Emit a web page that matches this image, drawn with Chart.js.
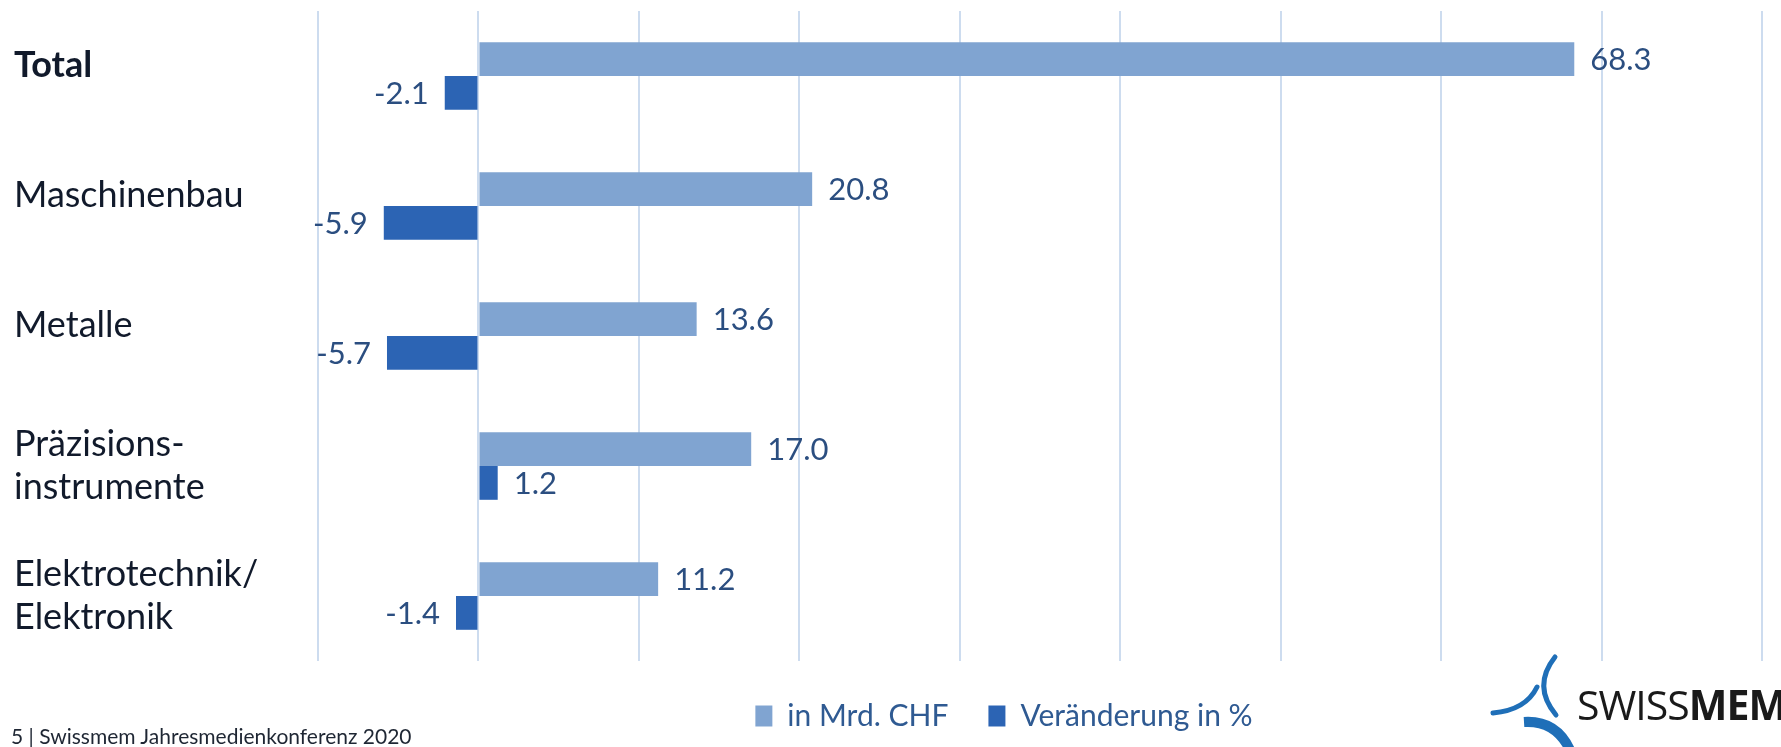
<!doctype html>
<html>
<head>
<meta charset="utf-8">
<script src="https://cdn.jsdelivr.net/npm/chart.js@4/dist/chart.umd.min.js"></script>
<style>
  body { margin: 0; background: #fff; }
  #wrap { position: relative; width: 1781px; height: 747px; overflow: hidden; }
  #footer { position: absolute; left: 11px; top: 723px; font-family: Lato, sans-serif; font-size: 21px; color: #1e2633; }
  #logo { position: absolute; left: 1480px; top: 650px; width: 301px; height: 97px; }
  #logoText { position: absolute; left: 97px; top: 26px; font-family: "Open Sans", sans-serif; font-size: 41px; color: #1a1a1a; letter-spacing: -1px; }
</style>
<script>
// categories and values
var categories = ['Total', 'Maschinenbau', 'Metalle', ['Präzisions-', 'instrumente'], ['Elektrotechnik/', 'Elektronik']];
var exportsChf = [68.3, 20.8, 13.6, 17.0, 11.2];
var changePct = [-2.1, -5.9, -5.7, 1.2, -1.4];
var seriesNames = ['in Mrd. CHF', 'Veränderung in %'];

// draws the number next to the end of each bar
var valueLabels = {
  id: 'valueLabels',
  afterDatasetsDraw: function(chart) {
    var ctx = chart.ctx;
    ctx.save();
    ctx.font = '31px Lato';
    ctx.fillStyle = '#2b4e80';
    ctx.textBaseline = 'middle';
    chart.data.datasets.forEach(function(ds, di) {
      chart.getDatasetMeta(di).data.forEach(function(bar, i) {
        var v = ds.data[i];
        if (v >= 0) {
          ctx.textAlign = 'left';
          ctx.fillText(v.toFixed(1), bar.x + 16, bar.y + 1);
        } else {
          ctx.textAlign = 'right';
          ctx.fillText(v.toFixed(1), bar.x - 16, bar.y + 1);
        }
      });
    });
    ctx.restore();
  }
};

// legend sits under the plot, a bit right of the page centre
var moveLegend = {
  id: 'moveLegend',
  afterLayout: function(chart) {
    var lg = chart.legend;
    var w = lg.right - lg.left;
    lg.left = 1004 - w / 2;
    lg.right = 1004 + w / 2;
  }
};

function isSingle(i) {
  return !Array.isArray(categories[i]);
}

function start() {
  var ctx = document.getElementById('chart').getContext('2d');
  new Chart(ctx, {
    type: 'bar',
    data: {
      labels: categories,
      datasets: [{
        label: seriesNames[0],
        data: exportsChf,
        backgroundColor: '#80a4d1',
        categoryPercentage: 0.52,
        barPercentage: 1
      }, {
        label: seriesNames[1],
        data: changePct,
        backgroundColor: '#2c64b4',
        categoryPercentage: 0.52,
        barPercentage: 1
      }]
    },
    options: {
      indexAxis: 'y',
      responsive: false,
      animation: false,
      layout: { padding: { top: 11, right: 19, bottom: 6, left: 14 } },
      scales: {
        x: {
          min: -10,
          max: 80,
          ticks: { display: false, stepSize: 10 },
          grid: { color: '#cddcef', lineWidth: 2, drawTicks: false },
          border: { display: false }
        },
        y: {
          grid: { display: false },
          border: { display: false },
          afterFit: function(scale) {
            scale.width = 304;
            scale.paddingTop = 0;
            scale.paddingBottom = 0;
          },
          ticks: {
            crossAlign: 'far',
            color: '#111a2b',
            // one-line names sit a little above the middle of their pair of bars, as on the slide
            callback: function(value, index) {
              return isSingle(index) ? [categories[index], ''] : categories[index];
            },
            font: function(c) {
              return {
                family: 'Lato',
                size: 36,
                lineHeight: isSingle(c.index) ? 0.6 : 1.2,
                weight: c.index === 0 ? 'bold' : 'normal'
              };
            }
          }
        }
      },
      plugins: {
        legend: {
          position: 'bottom',
          labels: {
            font: { family: 'Lato', size: 30 },
            color: '#2f5a92',
            boxWidth: 17,
            boxHeight: 21,
            padding: 40
          }
        },
        tooltip: { enabled: false }
      }
    },
    plugins: [valueLabels, moveLegend]
  });
}
</script>
</head>
<body onload="start()">
<div id="wrap">
  <canvas id="chart" width="1781" height="747"></canvas>
  <div id="footer">5 | Swissmem Jahresmedienkonferenz 2020</div>
  <div id="logo">
    <svg width="100" height="97" viewBox="0 0 100 97">
      <path d="M75 7 Q52 36 76 65" fill="none" stroke="#1f6fb8" stroke-width="5" stroke-linecap="round"/>
      <path d="M13 63 Q46 60 57 37" fill="none" stroke="#1f6fb8" stroke-width="5" stroke-linecap="round"/>
      <path d="M44 72 Q76 70 90 100" fill="none" stroke="#1f6fb8" stroke-width="10"/>
    </svg>
    <div id="logoText">SWISS<b>MEM</b></div>
  </div>
</div>
</body>
</html>
